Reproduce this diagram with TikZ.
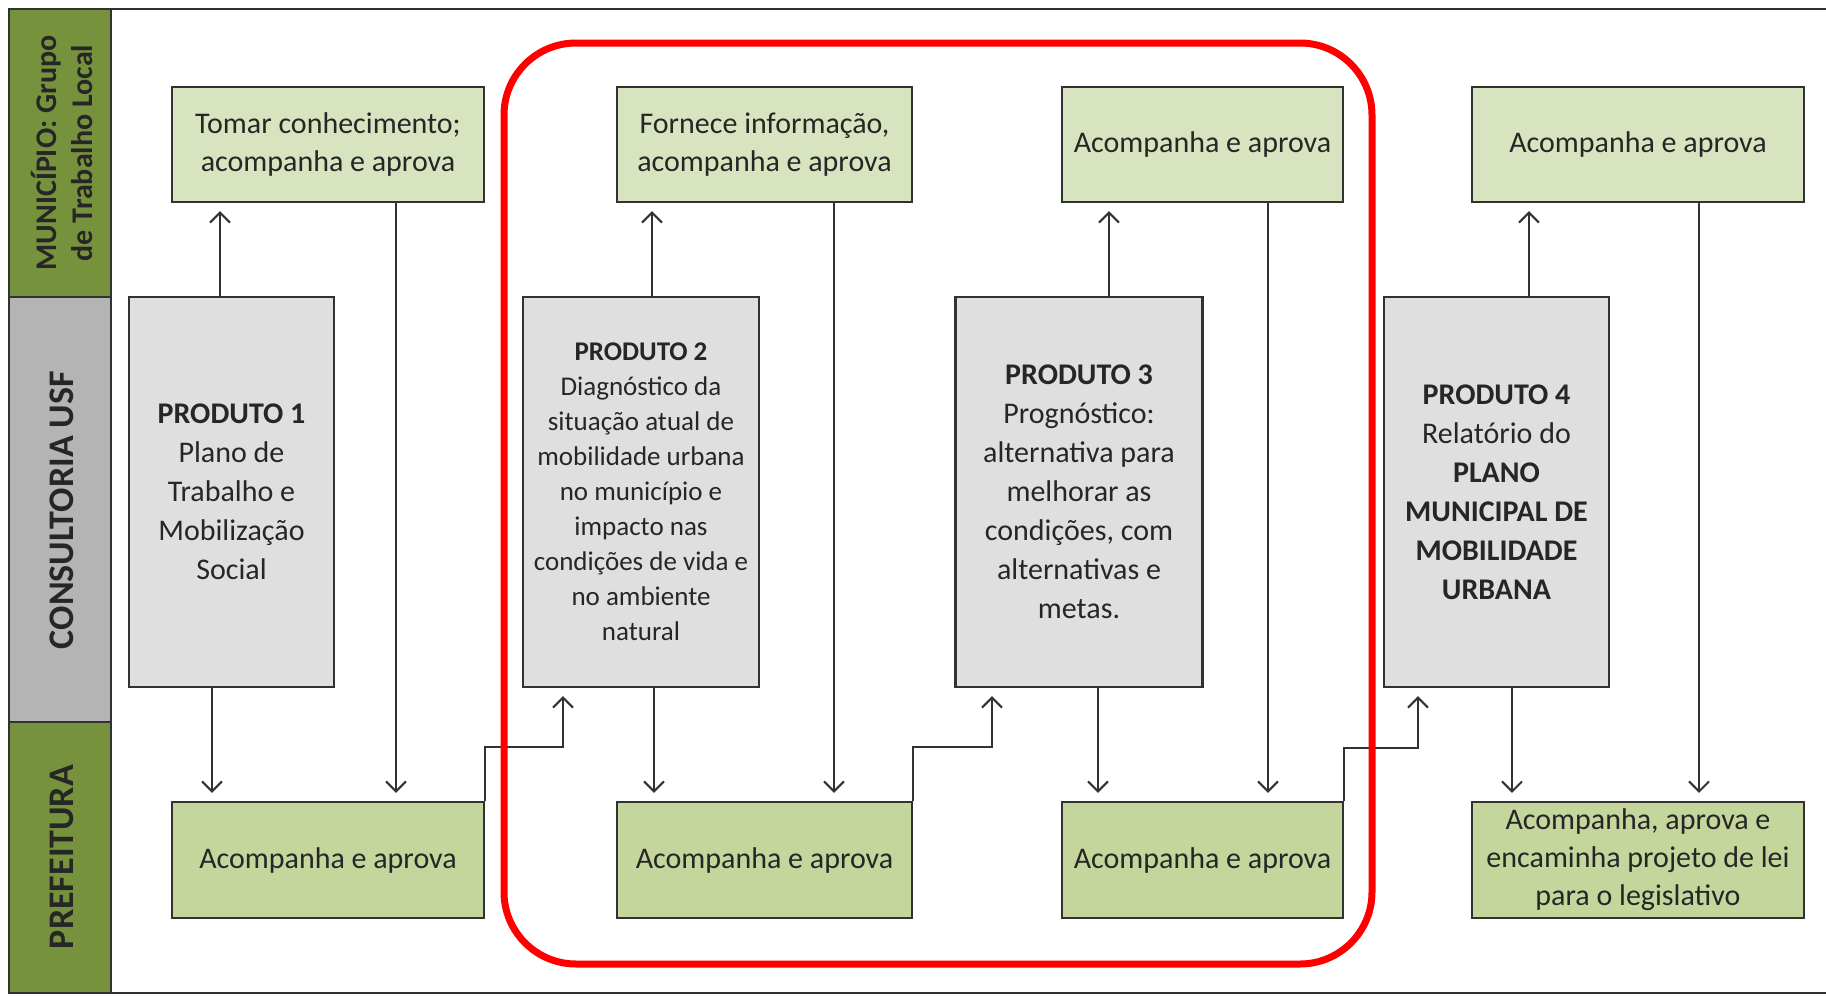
\documentclass[tikz,border=0pt]{standalone}
\usepackage{fontspec}
\setmainfont{Carlito}
\usepackage{tikz}
\usetikzlibrary{arrows.meta}
\definecolor{laneGreen}{RGB}{118,146,60}
\definecolor{laneGray}{RGB}{180,180,180}
\definecolor{boxTop}{RGB}{216,228,192}
\definecolor{boxBottom}{RGB}{197,214,157}
\definecolor{boxGray}{RGB}{223,223,223}
\definecolor{ink}{RGB}{50,50,50}
\definecolor{txt}{RGB}{38,38,38}

\begin{document}
\begin{tikzpicture}[x=0.5pt, y=-0.5pt]%
  \tikzset{normal arrow/.style={draw, -{Straight Barb[length=5pt,width=10pt]}, line width=1pt, ink, shorten >=4pt}}
  \tikzset{plain line/.style={draw, line width=1pt, ink}}
  \tikzset{lane/.style={draw=ink, line width=1.3pt}}
  \tikzset{lane label/.style={rotate=90, align=center, text=black!85, inner sep=0pt, font=\fontsize{18}{21}\selectfont\bfseries}}
  \tikzset{acao/.style={draw=ink, line width=1.2pt, text=txt, align=center, inner sep=0pt, font=\fontsize{15}{19}\selectfont}}
  \tikzset{acao top/.style={acao, fill=boxTop, minimum height=57.5pt}}
  \tikzset{acao bottom/.style={acao, fill=boxBottom, minimum height=58pt}}
  \tikzset{produto/.style={acao, fill=boxGray, minimum height=195pt, font=\fontsize{15}{19.5}\selectfont}}

  \useasboundingbox (0,0) rectangle (1826,996);

  % lanes
  \draw[lane, fill=laneGreen] (9,9) rectangle (111,297);
  \draw[lane, fill=laneGray] (9,297) rectangle (111,722);
  \draw[lane, fill=laneGreen] (9,722) rectangle (111,993);
  \draw[lane] (1830,9) -- (111,9);
  \draw[lane] (1830,993) -- (111,993);
  \node[lane label, font=\fontsize{15}{18}\selectfont\bfseries] (mun) at (62,153) {MUNICÍPIO: Grupo\\de Trabalho Local};
  \node[lane label] (con) at (62,510) {CONSULTORIA USF};
  \node[lane label] (pre) at (62,857) {PREFEITURA};

  % municipio
  \node[acao top, minimum width=156pt] (T1) at (328,144.5) {Tomar conhecimento;\\acompanha e aprova};
  \node[acao top, minimum width=147.5pt] (T2) at (764.5,144.5) {Fornece informação,\\acompanha e aprova};
  \node[acao top, minimum width=140.5pt] (T3) at (1202.5,144.5) {Acompanha e aprova};
  \node[acao top, minimum width=166pt] (T4) at (1638,144.5) {Acompanha e aprova};

  % consultoria
  \node[produto, minimum width=102.5pt] (P1) at (231.5,492) {\textbf{PRODUTO 1}\\Plano de\\Trabalho e\\Mobilização\\Social};
  \node[produto, minimum width=118pt, font=\fontsize{13.5}{17.5}\selectfont] (P2) at (641,492) {\textbf{PRODUTO 2}\\Diagnóstico da\\situação atual de\\mobilidade urbana\\no município e\\impacto nas\\condições de vida e\\no ambiente\\natural};
  \node[produto, minimum width=123.5pt] (P3) at (1079,492) {\textbf{PRODUTO 3}\\Prognóstico:\\alternativa para\\melhorar as\\condições, com\\alternativas e\\metas.};
  \node[produto, minimum width=112.5pt] (P4) at (1496.5,492) {\textbf{PRODUTO 4}\\Relatório do\\\textbf{PLANO}\\\textbf{MUNICIPAL DE}\\\textbf{MOBILIDADE}\\\textbf{URBANA}};

  % prefeitura
  \node[acao bottom, minimum width=156pt] (B1) at (328,860) {Acompanha e aprova};
  \node[acao bottom, minimum width=147.5pt] (B2) at (764.5,860) {Acompanha e aprova};
  \node[acao bottom, minimum width=140.5pt] (B3) at (1202.5,860) {Acompanha e aprova};
  \node[acao bottom, minimum width=166pt] (B4) at (1638,860) {Acompanha, aprova e\\encaminha projeto de lei\\para o legislativo};

  \coordinate (k1) at (563,747);
  \coordinate (k2) at (992,747);
  \coordinate (k3) at (1418,748);

  \draw[normal arrow] (P1.north -| 220,0) -- (T1.south -| 220,0);
  \draw[normal arrow] (T1.south -| 396,0) -- (B1.north -| 396,0);
  \draw[normal arrow] (P1.south -| 212,0) -- (B1.north -| 212,0);
  \draw[normal arrow] (B1.north east) |- (k1) -- (k1 |- P2.south);

  \draw[normal arrow] (P2.north -| 652,0) -- (T2.south -| 652,0);
  \draw[normal arrow] (T2.south -| 834,0) -- (B2.north -| 834,0);
  \draw[normal arrow] (P2.south -| 654,0) -- (B2.north -| 654,0);
  \draw[normal arrow] (B2.north east) |- (k2) -- (k2 |- P3.south);

  \draw[normal arrow] (P3.north -| 1109,0) -- (T3.south -| 1109,0);
  \draw[normal arrow] (T3.south -| 1268,0) -- (B3.north -| 1268,0);
  \draw[normal arrow] (P3.south -| 1098,0) -- (B3.north -| 1098,0);
  \draw[normal arrow] (B3.north east) |- (k3) -- (k3 |- P4.south);

  \draw[normal arrow] (P4.north -| 1529,0) -- (T4.south -| 1529,0);
  \draw[normal arrow] (T4.south -| 1699,0) -- (B4.north -| 1699,0);
  \draw[normal arrow] (P4.south -| 1512,0) -- (B4.north -| 1512,0);

  % destaque
  \draw[red, line width=3.5pt, rounded corners=36pt] (504,43) rectangle (1372,964);
\end{tikzpicture}
\end{document}
